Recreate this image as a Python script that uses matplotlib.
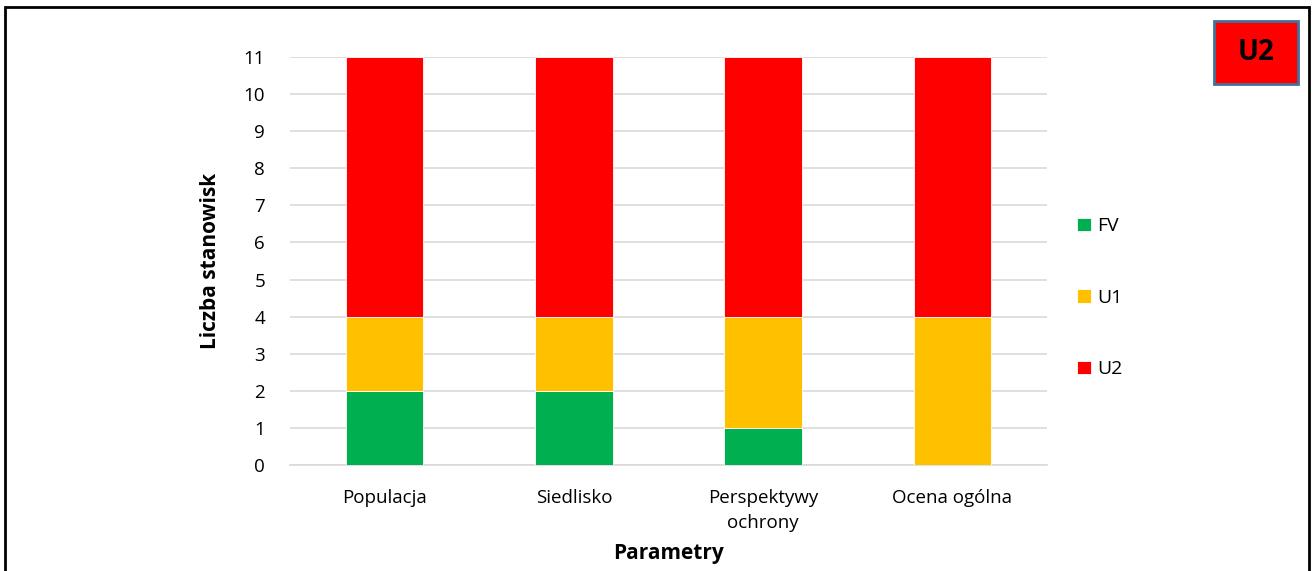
import numpy as np
import matplotlib.pyplot as plt
from matplotlib.patches import Rectangle

# data
categories = ['Populacja', 'Siedlisko', 'Perspektywy\nochrony', 'Ocena ogólna']
fv = [2, 2, 1, 0]
u1 = [2, 2, 3, 4]
u2 = [7, 7, 7, 7]
series_labels = ['FV', 'U1', 'U2']
colors = ['#00B050', '#FFC000', '#FF0000']

plt.rcParams['font.family'] = ['Open Sans', 'DejaVu Sans']

fig = plt.figure(figsize=(13.13, 5.71), dpi=100)
ax = fig.add_axes([0.2209, 0.1856, 0.5765, 0.7146])

x = np.arange(len(categories))
bottom = np.zeros(len(categories))
for vals, lab, col in zip([fv, u1, u2], series_labels, colors):
    ax.bar(x, vals, width=0.41, bottom=bottom, color=col, label=lab,
           edgecolor='white', linewidth=0.6, zorder=3)
    bottom += np.array(vals)

ax.set_xlim(-0.5, 3.5)
ax.set_ylim(0, 11)
ax.set_yticks(range(0, 12))
ax.set_xticks(x)
ax.set_xticklabels(categories, fontsize=13.5, linespacing=1.55)
ax.tick_params(axis='y', labelsize=13.5, length=0, pad=18)
ax.tick_params(axis='x', length=0, pad=17)
ax.grid(axis='y', color='#d9d9d9', linewidth=1.2, zorder=0)
for s in ['left', 'right', 'top']:
    ax.spines[s].set_visible(False)
ax.spines['bottom'].set_color('#d9d9d9')
ax.spines['bottom'].set_linewidth(1.2)

ax.set_ylabel('Liczba stanowisk', fontsize=15, fontweight='bold', labelpad=16)
ax.set_xlabel('Parametry', fontsize=15, fontweight='bold', labelpad=8)

ax.legend(loc='center left', bbox_to_anchor=(1.017, 0.41), frameon=False,
          fontsize=14, handlelength=0.7, handleheight=0.7, handletextpad=0.3,
          labelspacing=2.75)

# outer border
fig.patches.append(Rectangle((5 / 1313, -0.05), 1304 / 1313, 1.05 - 7 / 571,
                             transform=fig.transFigure, fill=False,
                             edgecolor='black', linewidth=2))

# U2 badge
fig.patches.append(Rectangle((1214 / 1313, 1 - 84 / 571), 84 / 1313, 63 / 571,
                             transform=fig.transFigure, facecolor='#FF0000',
                             edgecolor='#41719C', linewidth=2))
fig.text(1256 / 1313, 1 - 53 / 571, 'U2', fontsize=20, fontweight='bold',
         ha='center', va='center')

fig.savefig('out.png', dpi=100)
